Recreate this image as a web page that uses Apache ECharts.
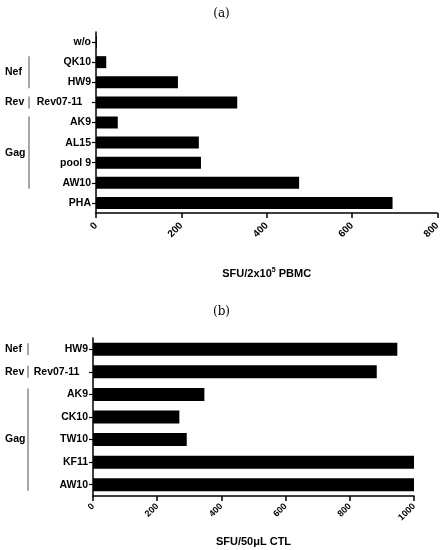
<!DOCTYPE html>
<html>
<head>
<meta charset="utf-8">
<script src="https://cdn.jsdelivr.net/npm/echarts@6/dist/echarts.min.js"></script>
<style>
  html, body { margin: 0; padding: 0; background: #fff; }
  #chart { width: 443px; height: 550px; }
</style>
</head>
<body>
<div id="chart"></div>
<script>
// panel (a)
const catsA = ['w/o', 'QK10', 'HW9', 'Rev07-11   ', 'AK9', 'AL15', 'pool 9', 'AW10', 'PHA'];
const valsA = [2, 24, 192, 331, 51, 241, 246, 476, 695];
const groupNamesA = ['Nef', 'Rev', 'Gag'];
const groupFromA = [1, 3, 4];
const groupToA = [2, 3, 7];

// panel (b)
const catsB = ['HW9', 'Rev07-11   ', 'AK9', 'CK10', 'TW10', 'KF11', 'AW10'];
const valsB = [948, 884, 347, 269, 292, 1000, 1000];
const groupNamesB = ['Nef', 'Rev', 'Gag'];
const groupFromB = [0, 1, 2];
const groupToB = [0, 1, 6];

const font = 'Liberation Sans, Arial, sans-serif';
const black = '#000';

const chart = echarts.init(document.getElementById('chart'));

const valueAxis = (gridIndex, max, name, nameGap, labelSize, labelMargin) => ({
  type: 'value',
  gridIndex: gridIndex,
  min: 0,
  max: max,
  interval: 200,
  name: name,
  nameLocation: 'middle',
  nameGap: nameGap,
  nameTextStyle: {
    fontFamily: font, fontWeight: 'bold', fontSize: 11, color: black,
    rich: {
      sup: { fontFamily: font, fontWeight: 'bold', fontSize: 7, color: black, verticalAlign: 'top', padding: [0, 0, 6, 0] }
    }
  },
  axisLine: { show: true, lineStyle: { color: black, width: 1.5 } },
  axisTick: { show: true, length: 5, lineStyle: { color: black, width: 1.5 } },
  axisLabel: {
    rotate: 45, margin: labelMargin, fontFamily: font, fontWeight: 'bold', fontSize: labelSize, color: black,
    formatter: (v) => String(v)
  },
  splitLine: { show: false }
});

const catAxis = (gridIndex, data) => ({
  type: 'category',
  gridIndex: gridIndex,
  data: data,
  inverse: true,
  axisLine: { show: true, lineStyle: { color: black, width: 1.5 } },
  axisTick: { show: true, alignWithLabel: true, length: 4, lineStyle: { color: black, width: 1.2 } },
  axisLabel: { margin: 5, fontFamily: font, fontWeight: 'bold', fontSize: 10.5, color: black }
});

let option = {
  animation: false,
  title: [
    { text: '(a)', left: 'center', top: 3, textStyle: { fontFamily: 'DejaVu Serif, Liberation Serif, serif', fontWeight: 'normal', fontSize: 12, color: black } },
    { text: '(b)', left: 'center', top: 301, textStyle: { fontFamily: 'DejaVu Serif, Liberation Serif, serif', fontWeight: 'normal', fontSize: 12, color: black } }
  ],
  grid: [
    { left: 96, right: 5, top: 32, height: 181 },
    { left: 93, right: 29, top: 338, height: 158 }
  ],
  xAxis: [
    valueAxis(0, 800, 'SFU/2x10{sup|5} PBMC', 54, 10, 11),
    valueAxis(1, 1000, 'SFU/50\u03bcL CTL', 40, 9, 9)
  ],
  yAxis: [catAxis(0, catsA), catAxis(1, catsB)],
  series: [
    { type: 'bar', xAxisIndex: 0, yAxisIndex: 0, data: valsA, barWidth: 12, itemStyle: { color: black } },
    { type: 'bar', xAxisIndex: 1, yAxisIndex: 1, data: valsB, barWidth: 13, itemStyle: { color: black } }
  ]
};
chart.setOption(option);

// group brackets on the left, placed from the category positions
const makeGroups = (yAxisIndex, cats, names, from, to, lineX) => {
  const els = [];
  for (let i = 0; i < names.length; i++) {
    const y1 = chart.convertToPixel({ yAxisIndex: yAxisIndex }, cats[from[i]]) - 6;
    const y2 = chart.convertToPixel({ yAxisIndex: yAxisIndex }, cats[to[i]]) + 6;
    els.push({
      type: 'line',
      shape: { x1: lineX, y1: y1, x2: lineX, y2: y2 },
      style: { stroke: '#8a8a8a', lineWidth: 1.5 }
    });
    els.push({
      type: 'text',
      x: 5,
      y: (y1 + y2) / 2,
      style: { text: names[i], fontFamily: font, fontWeight: 'bold', fontSize: 10.5, fill: black, verticalAlign: 'middle' }
    });
  }
  return els;
};

chart.setOption({
  graphic: makeGroups(0, catsA, groupNamesA, groupFromA, groupToA, 29)
    .concat(makeGroups(1, catsB, groupNamesB, groupFromB, groupToB, 28))
});
</script>
</body>
</html>
